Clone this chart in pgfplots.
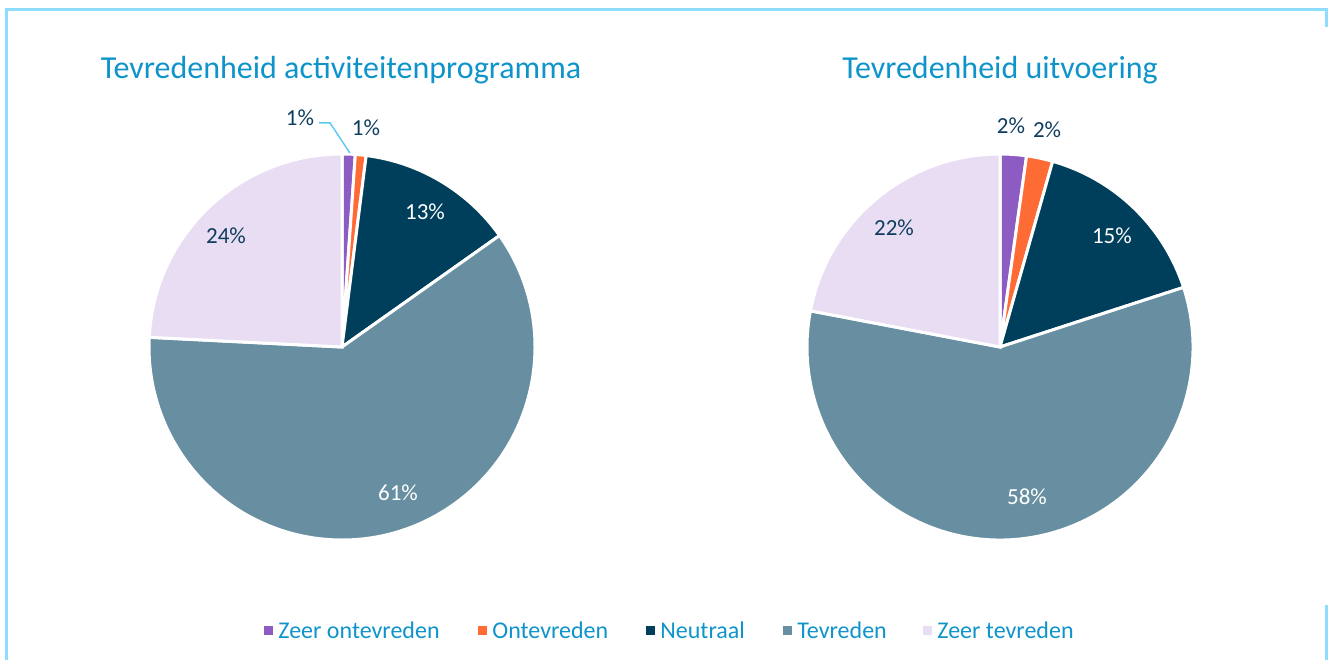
\documentclass[border=0pt]{standalone}
\usepackage{pgfplots}
\pgfplotsset{compat=1.18}
\usepackage{pgfplotstable}
\usepackage{fontspec}
\setmainfont{Carlito}
\definecolor{c0}{HTML}{8C5CC2}
\definecolor{c1}{HTML}{FF6B35}
\definecolor{c2}{HTML}{003F5C}
\definecolor{c3}{HTML}{678FA1}
\definecolor{c4}{HTML}{E8DDF2}
\definecolor{titleblue}{HTML}{0E94CA}
\definecolor{labnavy}{HTML}{0F3D5E}
\definecolor{frameblue}{HTML}{8EDDFF}
\definecolor{leader}{HTML}{5BC8F0}

\pgfplotstableread{
cat value
ZeerOntevreden 1.1
Ontevreden 0.9
Neutraal 13.2
Tevreden 60.6
ZeerTevreden 24.2
}\tableA
\pgfplotstableread{
cat value
ZeerOntevreden 2.2
Ontevreden 2.2
Neutraal 15.6
Tevreden 58.0
ZeerTevreden 22.0
}\tableB

\newcommand\drawpie[1]{%
  \gdef\cum{0}%
  \foreach \i in {0,...,4}{%
    \pgfplotstablegetelem{\i}{value}\of#1%
    \let\v\pgfplotsretval
    \pgfmathsetmacro\sa{90-3.6*\cum}%
    \pgfmathsetmacro\ea{90-3.6*(\cum+\v)}%
    \fill[c\i, draw=white, line width=1.5pt] (axis cs:0,0) -- (axis cs:{cos(\sa)},{sin(\sa)}) arc[start angle=\sa, end angle=\ea, radius=96.5pt] -- cycle;
    \pgfmathsetmacro\newcum{\cum+\v}%
    \global\let\cum\newcum
  }%
}

\pgfplotsset{pieaxis/.style={hide axis, x=96.5pt, y=96.5pt, xmin=-1, xmax=1, ymin=-1, ymax=1, clip=false, anchor=origin}}

\begin{document}
\begin{tikzpicture}[font=\fontsize{11.5}{13}\selectfont]
\useasboundingbox (0,0) rectangle (665pt,330pt);
% frame
\draw[frameblue, line width=1.5pt] (3pt,0) -- (3pt,325pt) -- (663pt,325pt) -- (663pt,316.5pt);
\draw[frameblue, line width=1.5pt] (663pt,27.5pt) -- (663pt,0);

\begin{axis}[pieaxis, at={(171pt,156.5pt)}]
\pgfplotsextra{\drawpie{\tableA}}
\draw[leader, line width=0.7pt] (axis cs:-0.119,1.161) -- (axis cs:-0.062,1.161) -- (axis cs:0.041,1.005);
\node[labnavy] at (axis cs:-0.218,1.187) {1\%};
\node[labnavy] at (axis cs:0.124,1.135) {1\%};
\node[white] at (axis cs:0.430,0.699) {13\%};
\node[white] at (axis cs:0.290,-0.756) {61\%};
\node[labnavy] at (axis cs:-0.601,0.575) {24\%};
\end{axis}

\begin{axis}[pieaxis, at={(500pt,156.5pt)}]
\pgfplotsextra{\drawpie{\tableB}}
\node[labnavy] at (axis cs:0.057,1.145) {2\%};
\node[labnavy] at (axis cs:0.244,1.124) {2\%};
\node[white] at (axis cs:0.580,0.575) {15\%};
\node[white] at (axis cs:0.140,-0.777) {58\%};
\node[labnavy] at (axis cs:-0.549,0.617) {22\%};
\end{axis}

\node[titleblue, font=\fontsize{16}{19}\selectfont] at (170.5pt,295pt) {Tevredenheid activiteitenprogramma};
\node[titleblue, font=\fontsize{16}{19}\selectfont] at (500pt,295pt) {Tevredenheid uitvoering};

% legend
\foreach \x/\c/\t in {134/c0/Zeer ontevreden, 241/c1/Ontevreden, 325/c2/Neutraal, 393.5/c3/Tevreden, 463.5/c4/Zeer tevreden}{
  \fill[\c] (\x pt-2.25pt,12.75pt) rectangle +(4.5pt,4.5pt);
  \node[titleblue, anchor=west, inner sep=0pt, font=\fontsize{12}{14}\selectfont] at (\x pt+5pt,15pt) {\t};
}
\end{tikzpicture}
\end{document}
